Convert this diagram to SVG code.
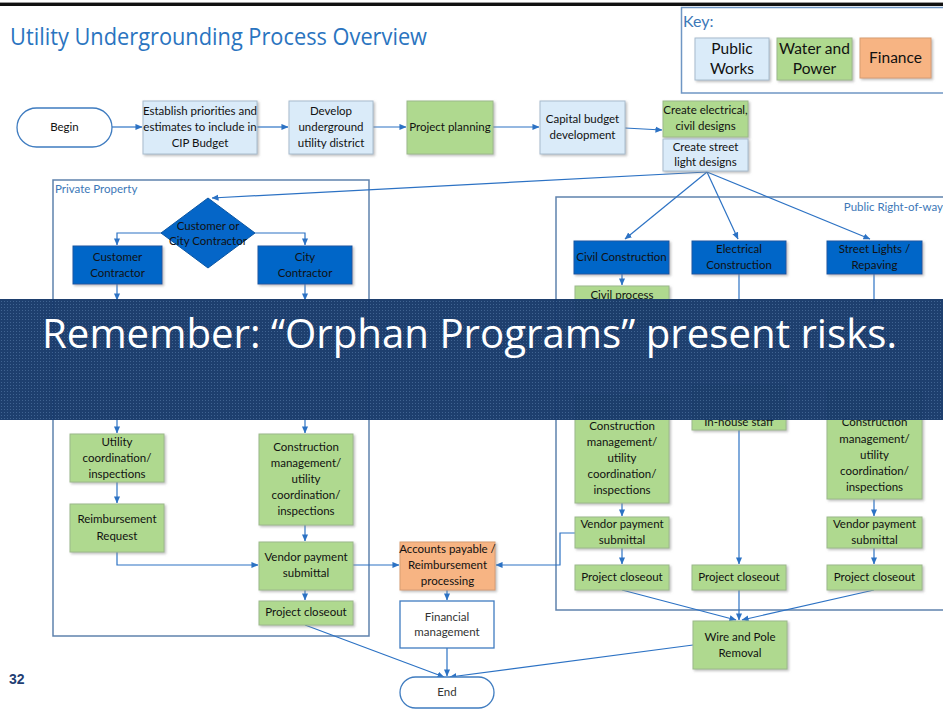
<svg xmlns="http://www.w3.org/2000/svg" width="943" height="717" viewBox="0 0 943 717">
  <defs>
    <marker id="arr" viewBox="0 0 8 8" refX="7.5" refY="4" markerWidth="7" markerHeight="7" markerUnits="userSpaceOnUse" orient="auto">
      <path d="M0,0.5 L8,4 L0,7.5 Z" fill="#2C72C4"/>
    </marker>
    <filter id="sh" x="-10%" y="-10%" width="125%" height="130%">
      <feDropShadow dx="1.5" dy="1.5" stdDeviation="0.8" flood-color="#8a8a8a" flood-opacity="0.55"/>
    </filter>
    <pattern id="dots" width="3" height="3" patternUnits="userSpaceOnUse">
      <rect width="3" height="3" fill="#17396a"/>
      <rect x="1" y="1" width="1" height="1" fill="#3a5e8e"/>
    </pattern>
    <style>
      .lb{fill:#DAEBF9;stroke:#a8bccd;stroke-width:1}
      .gr{fill:#AFD98F;stroke:#9cb98b;stroke-width:1}
      .or{fill:#F7B483;stroke:#d79d72;stroke-width:1}
      .db{fill:#0566C8;stroke:#0b56a3;stroke-width:1}
      .wh{fill:#ffffff;stroke:#3f7cc0;stroke-width:1.3}
      .term{fill:#ffffff;stroke:#3f7cc0;stroke-width:1.3}
      .region{fill:none;stroke:#5f82ad;stroke-width:1.5}
      .sh{filter:url(#sh)}
      .t{font-family:Lato,"Liberation Sans",Arial,sans-serif;font-size:11.5px;fill:#111;text-anchor:middle}
      .tg{font-family:Lato,"Liberation Sans",Arial,sans-serif;font-size:11.5px;fill:#333;text-anchor:middle}
      .k{font-family:Lato,"Liberation Sans",Arial,sans-serif;font-size:15.5px;fill:#111;text-anchor:middle}
      .lab{font-family:Lato,"Liberation Sans",Arial,sans-serif;font-size:11.5px;fill:#3d78b8}
      .c{fill:none;stroke:#2C72C4;stroke-width:1.2}
      .ca{fill:none;stroke:#2C72C4;stroke-width:1.2;marker-end:url(#arr)}
    </style>
  </defs>

  <rect width="943" height="717" fill="#ffffff"/>
  <!-- top rule -->
  <rect x="0" y="2" width="943" height="1" fill="#9a9a9a"/>
  <rect x="0" y="3" width="943" height="3" fill="#111111"/>

  <!-- title -->
  <text x="10" y="45" font-family="'Open Sans','Noto Sans',sans-serif" font-size="24" fill="#2A74C0" textLength="417" lengthAdjust="spacingAndGlyphs">Utility Undergrounding Process Overview</text>

  <!-- key -->
  <g id="key">
    <rect x="681.5" y="7.5" width="270" height="85.5" fill="#ffffff" stroke="#6f96c4" stroke-width="1.5"/>
    <text x="683" y="27" font-family="Lato,'Liberation Sans',Arial,sans-serif" font-size="16" fill="#3d78b8">Key:</text>
    <rect class="lb sh" x="695" y="38" width="74" height="42"/>
    <text class="k" x="732" y="54">Public</text>
    <text class="k" x="732" y="74">Works</text>
    <rect class="gr sh" x="777" y="38" width="75" height="42"/>
    <text class="k" x="814.5" y="54">Water and</text>
    <text class="k" x="814.5" y="74">Power</text>
    <rect class="or sh" x="860" y="38" width="71" height="40"/>
    <text class="k" x="895.5" y="63">Finance</text>
  </g>

  <!-- swimlane regions -->
  <g id="private-property">
    <rect class="region" x="53" y="180" width="316" height="456"/>
    <text class="lab" x="55" y="193">Private Property</text>
  </g>
  <g id="public-right-of-way">
    <rect class="region" x="556" y="197" width="400" height="413"/>
    <text class="lab" x="943" y="211" text-anchor="end">Public Right-of-way</text>
  </g>

  <!-- connectors -->
  <g id="connectors">
    <path class="ca" d="M112,127 H142"/>
    <path class="ca" d="M257,127 H288"/>
    <path class="ca" d="M373,127 H406"/>
    <path class="ca" d="M493,127 H539"/>
    <path class="ca" d="M625,128 L662,130"/>
    <path class="ca" d="M707,172 L212,198"/>
    <path class="ca" d="M707,172 L625,239"/>
    <path class="ca" d="M707,172 L738,239"/>
    <path class="ca" d="M707,172 L870,239"/>
    <!-- private property -->
    <path class="ca" d="M162,233 H117 V245"/>
    <path class="ca" d="M255,233 H305 V245"/>
    <path class="ca" d="M117,284 V300"/>
    <path class="ca" d="M305,284 V300"/>
    <path class="ca" d="M117,418 V433"/>
    <path class="ca" d="M305,418 V433"/>
    <path class="ca" d="M117,482 V503"/>
    <path class="ca" d="M117,552 V565 H258"/>
    <path class="ca" d="M305,525 V541"/>
    <path class="ca" d="M305,590 V600"/>
    <path class="ca" d="M353,565 H399"/>
    <path class="ca" d="M305,625 L444,677"/>
    <!-- finance -->
    <path class="ca" d="M447,590 V600"/>
    <path class="ca" d="M447,648 V676"/>
    <!-- public right-of-way -->
    <path class="ca" d="M622,274 V285"/>
    <path class="c" d="M739,274 V305"/>
    <path class="c" d="M874,274 V305"/>
    <path class="ca" d="M739,430 V564"/>
    <path class="ca" d="M622,503 V516"/>
    <path class="ca" d="M622,548 V564"/>
    <path class="ca" d="M874,499 V516"/>
    <path class="ca" d="M874,548 V564"/>
    <path class="ca" d="M575,533 H560 V565 H496"/>
    <path class="ca" d="M622,590 L736,620"/>
    <path class="ca" d="M739,590 V620"/>
    <path class="ca" d="M874,590 L742,620"/>
    <path class="ca" d="M693,645 L450,677"/>
  </g>

  <!-- main sequence -->
  <g id="begin">
    <rect class="term" x="17" y="108" width="95" height="39" rx="19.5"/>
    <text class="t" x="64.5" y="131">Begin</text>
  </g>
  <g id="establish-priorities">
    <rect class="lb sh" x="143" y="101" width="114" height="53"/>
    <text class="t" x="200" y="115">Establish priorities and</text>
    <text class="t" x="200" y="131">estimates to include in</text>
    <text class="t" x="200" y="147">CIP Budget</text>
  </g>
  <g id="develop-district">
    <rect class="lb sh" x="289" y="101" width="84" height="53"/>
    <text class="t" x="331" y="115">Develop</text>
    <text class="t" x="331" y="131">underground</text>
    <text class="t" x="331" y="147">utility district</text>
  </g>
  <g id="project-planning">
    <rect class="gr sh" x="407" y="101" width="86" height="53"/>
    <text class="t" x="450" y="131">Project planning</text>
  </g>
  <g id="capital-budget">
    <rect class="lb sh" x="540" y="101" width="85" height="53"/>
    <text class="t" x="582.5" y="123">Capital budget</text>
    <text class="t" x="582.5" y="139">development</text>
  </g>
  <g id="electrical-civil-designs">
    <rect class="gr sh" x="663" y="101" width="85" height="36"/>
    <text class="t" x="705.5" y="114">Create electrical,</text>
    <text class="t" x="705.5" y="130">civil designs</text>
  </g>
  <g id="street-light-designs">
    <rect class="lb sh" x="663" y="139" width="85" height="32"/>
    <text class="t" x="705.5" y="151">Create street</text>
    <text class="t" x="705.5" y="166">light designs</text>
  </g>

  <!-- private property lane -->
  <g id="contractor-decision">
    <path class="db" d="M208,198 L255,233 L208,268 L161,233 Z"/>
    <text class="t" x="208" y="230">Customer or</text>
    <text class="t" x="208" y="245">City Contractor</text>
  </g>
  <g id="customer-contractor">
    <rect class="db sh" x="73" y="246" width="89" height="38"/>
    <text class="t" x="117.5" y="261">Customer</text>
    <text class="t" x="117.5" y="277">Contractor</text>
  </g>
  <g id="city-contractor">
    <rect class="db sh" x="258" y="246" width="94" height="38"/>
    <text class="t" x="305" y="261">City</text>
    <text class="t" x="305" y="277">Contractor</text>
  </g>
  <g id="utility-coordination">
    <rect class="gr sh" x="70" y="434" width="94" height="48"/>
    <text class="t" x="117" y="446">Utility</text>
    <text class="t" x="117" y="462">coordination/</text>
    <text class="t" x="117" y="478">inspections</text>
  </g>
  <g id="reimbursement-request">
    <rect class="gr sh" x="70" y="504" width="94" height="48"/>
    <text class="t" x="117" y="523">Reimbursement</text>
    <text class="t" x="117" y="540">Request</text>
  </g>
  <g id="pp-construction-management">
    <rect class="gr sh" x="259" y="434" width="94" height="91"/>
    <text class="t" x="306" y="451">Construction</text>
    <text class="t" x="306" y="467">management/</text>
    <text class="t" x="306" y="483">utility</text>
    <text class="t" x="306" y="499">coordination/</text>
    <text class="t" x="306" y="515">inspections</text>
  </g>
  <g id="pp-vendor-payment">
    <rect class="gr sh" x="259" y="542" width="94" height="48"/>
    <text class="t" x="306" y="561">Vendor payment</text>
    <text class="t" x="306" y="577">submittal</text>
  </g>
  <g id="pp-project-closeout">
    <rect class="gr sh" x="259" y="601" width="94" height="24"/>
    <text class="t" x="306" y="616">Project closeout</text>
  </g>

  <!-- finance -->
  <g id="accounts-payable">
    <rect class="or sh" x="400" y="542" width="95" height="48"/>
    <text class="t" x="447.5" y="553">Accounts payable /</text>
    <text class="t" x="447.5" y="569">Reimbursement</text>
    <text class="t" x="447.5" y="585">processing</text>
  </g>
  <g id="financial-management">
    <rect class="wh" x="400" y="601" width="94" height="47"/>
    <text class="tg" x="447" y="621">Financial</text>
    <text class="tg" x="447" y="636">management</text>
  </g>
  <g id="end">
    <rect class="term" x="400" y="677" width="94" height="31" rx="15.5"/>
    <text class="tg" x="447" y="696">End</text>
  </g>

  <!-- public right-of-way lane -->
  <g id="civil-construction">
    <rect class="db sh" x="574" y="241" width="95" height="33"/>
    <text class="t" x="621.5" y="261">Civil Construction</text>
  </g>
  <g id="electrical-construction">
    <rect class="db sh" x="692" y="241" width="94" height="33"/>
    <text class="t" x="739" y="253">Electrical</text>
    <text class="t" x="739" y="269">Construction</text>
  </g>
  <g id="street-lights-repaving">
    <rect class="db sh" x="827" y="241" width="95" height="33"/>
    <text class="t" x="874.5" y="253">Street Lights /</text>
    <text class="t" x="874.5" y="269">Repaving</text>
  </g>
  <g id="civil-process">
    <rect class="gr sh" x="575" y="286" width="94" height="40"/>
    <text class="t" x="622" y="299">Civil process</text>
  </g>
  <g id="civil-construction-management">
    <rect class="gr sh" x="575" y="395" width="94" height="108"/>
    <text class="t" x="622" y="430">Construction</text>
    <text class="t" x="622" y="446">management/</text>
    <text class="t" x="622" y="462">utility</text>
    <text class="t" x="622" y="478">coordination/</text>
    <text class="t" x="622" y="494">inspections</text>
  </g>
  <g id="in-house-staff">
    <rect class="gr sh" x="692" y="385" width="94" height="45"/>
    <text class="t" x="739" y="426">In-house staff</text>
  </g>
  <g id="street-construction-management">
    <rect class="gr sh" x="827" y="390" width="95" height="109"/>
    <text class="t" x="874.5" y="426">Construction</text>
    <text class="t" x="874.5" y="443">management/</text>
    <text class="t" x="874.5" y="459">utility</text>
    <text class="t" x="874.5" y="475">coordination/</text>
    <text class="t" x="874.5" y="491">inspections</text>
  </g>
  <g id="civil-vendor-payment">
    <rect class="gr sh" x="575" y="517" width="94" height="31"/>
    <text class="t" x="622" y="528">Vendor payment</text>
    <text class="t" x="622" y="544">submittal</text>
  </g>
  <g id="street-vendor-payment">
    <rect class="gr sh" x="827" y="517" width="95" height="31"/>
    <text class="t" x="874.5" y="528">Vendor payment</text>
    <text class="t" x="874.5" y="544">submittal</text>
  </g>
  <g id="civil-project-closeout">
    <rect class="gr sh" x="575" y="565" width="94" height="25"/>
    <text class="t" x="622" y="581">Project closeout</text>
  </g>
  <g id="electrical-project-closeout">
    <rect class="gr sh" x="692" y="565" width="94" height="25"/>
    <text class="t" x="739" y="581">Project closeout</text>
  </g>
  <g id="street-project-closeout">
    <rect class="gr sh" x="827" y="565" width="95" height="25"/>
    <text class="t" x="874.5" y="581">Project closeout</text>
  </g>
  <g id="wire-pole-removal">
    <rect class="gr sh" x="693" y="621" width="94" height="48"/>
    <text class="t" x="740" y="641">Wire and Pole</text>
    <text class="t" x="740" y="657">Removal</text>
  </g>

  <!-- slide number -->
  <text x="9" y="684" font-family="'Liberation Sans',Arial,sans-serif" font-size="14" font-weight="bold" fill="#1F3F73">32</text>

  <!-- callout banner across the chart -->
  <g id="banner">
    <rect x="0" y="299" width="943" height="121" fill="url(#dots)" opacity="0.97"/>
    <text x="42" y="348" font-family="'Open Sans','Noto Sans',sans-serif" font-size="41" fill="#ffffff" textLength="855" lengthAdjust="spacingAndGlyphs">Remember: “Orphan Programs” present risks.</text>
  </g>
</svg>
